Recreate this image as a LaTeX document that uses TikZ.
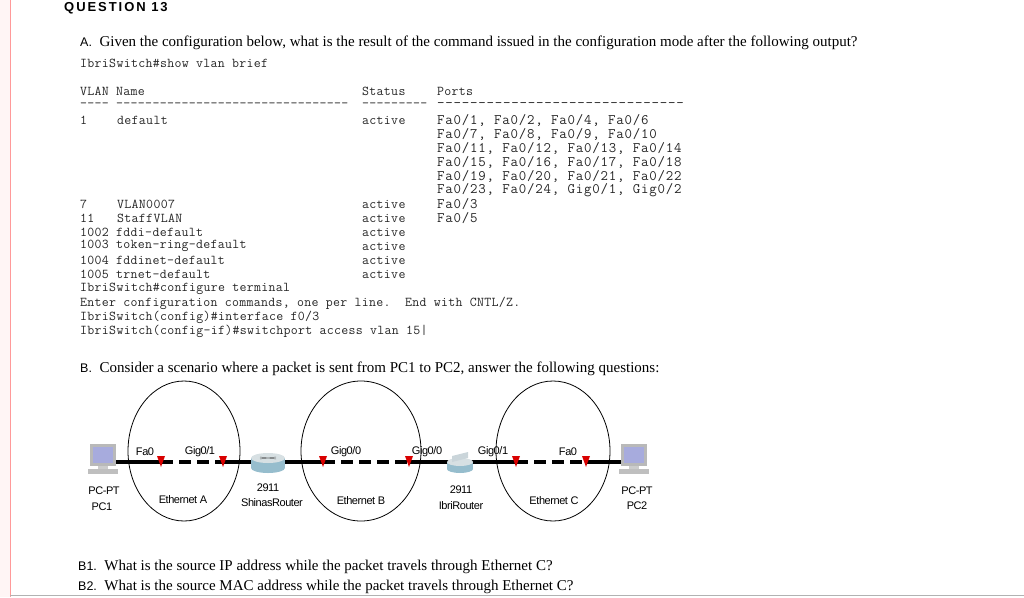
\documentclass[tikz,border=0pt]{standalone}
\usepackage{fontspec}
\setmainfont{Liberation Serif}
\setsansfont{Liberation Sans}
\newfontfamily\cmono[LetterSpace=2.3]{Latin Modern Mono}
\newfontfamily\pmono[LetterSpace=5.4]{Latin Modern Mono}
\begin{document}
\begin{tikzpicture}[x=1pt,y=-1pt,
  mono/.style={anchor=west,inner sep=0,font=\fontsize{13.5}{14}\cmono,text=black!85},
  ports/.style={anchor=west,inner sep=0,font=\fontsize{14.5}{14}\pmono,text=black!85},
  ser/.style={anchor=west,inner sep=0,font=\fontsize{15}{16}\selectfont},
  lab/.style={inner sep=0,font=\fontsize{11}{12}\sffamily\addfontfeature{LetterSpace=-4}},
  eth/.style={draw,thick,line width=0.8pt},
  redmark/.style={fill=red!85!black},
  link/.style={line width=3.2pt},
  dlink/.style={line width=3.2pt,dash pattern=on 12pt off 6pt}]
\useasboundingbox (0,0) rectangle (1024,597);
\fill[red!4] (0,0) rectangle (10,597);
\draw[red!40,line width=1pt] (10,0) -- (10,597);
\draw[black!30,line width=1pt] (10,595) -- (1024,595);
\node[anchor=west,inner sep=0,font=\bfseries\sffamily\fontsize{13}{14}\selectfont\addfontfeature{LetterSpace=15}] (q) at (64,8) {QUESTION 13};
\node[ser] (a) at (80,43) {{\sffamily\fontsize{12.5}{14}\selectfont A.}\ \ Given the configuration below, what is the result of the command issued in the configuration mode after the following output?};
\node[mono] (l0) at (80,63) {IbriSwitch\#show vlan brief};
\node[mono] (h1) at (80,91) {VLAN Name};
\node[mono] (h2) at (362,91) {Status};
\node[mono] (h3) at (437,91) {Ports};
\node[mono] (d1) at (80,105) {---- --------------------------------};
\node[mono] (d2) at (362,105) {---------};
\node[ports] (d3) at (437,105) {------------------------------};
\node[mono] (r1a) at (80,120) {1};
\node[mono] (r1b) at (117,120) {default};
\node[mono] (r1c) at (362,120) {active};
\node[ports] (p1) at (437,120) {Fa0/1, Fa0/2, Fa0/4, Fa0/6};
\node[ports] (p2) at (437,134) {Fa0/7, Fa0/8, Fa0/9, Fa0/10};
\node[ports] (p3) at (437,148) {Fa0/11, Fa0/12, Fa0/13, Fa0/14};
\node[ports] (p4) at (437,162) {Fa0/15, Fa0/16, Fa0/17, Fa0/18};
\node[ports] (p5) at (437,176) {Fa0/19, Fa0/20, Fa0/21, Fa0/22};
\node[ports] (p6) at (437,190) {Fa0/23, Fa0/24, Gig0/1, Gig0/2};
\node[mono] (r7a) at (80,204) {7};
\node[mono] (r7b) at (117,204) {VLAN0007};
\node[mono] (r7c) at (362,204) {active};
\node[ports] (r7d) at (437,204) {Fa0/3};
\node[mono] (r11a) at (80,218) {11};
\node[mono] (r11b) at (117,218) {StaffVLAN};
\node[mono] (r11c) at (362,218) {active};
\node[ports] (r11d) at (437,218) {Fa0/5};
\node[mono] (r12) at (80,232) {1002 fddi-default};
\node[mono] (r12c) at (362,232) {active};
\node[mono] (r13) at (80,246) {1003 token-ring-default};
\node[mono] (r13c) at (362,246) {active};
\node[mono] (r14) at (80,260) {1004 fddinet-default};
\node[mono] (r14c) at (362,260) {active};
\node[mono] (r15) at (80,274) {1005 trnet-default};
\node[mono] (r15c) at (362,274) {active};
\node[mono] (c1) at (80,289) {IbriSwitch\#configure terminal};
\node[mono] (c2) at (80,303) {Enter configuration commands, one per line.\ \ End with CNTL/Z.};
\node[mono] (c3) at (80,317) {IbriSwitch(config)\#interface f0/3};
\node[mono] (c4) at (80,331) {IbriSwitch(config-if)\#switchport access vlan 15|};
\node[ser] (b) at (80,369) {{\sffamily\fontsize{12.5}{14}\selectfont B.}\ \ Consider a scenario where a packet is sent from PC1 to PC2, answer the following questions:};
\node[ser] (b1) at (78,567) {{\sffamily\fontsize{12.5}{14}\selectfont B1.}\ \ What is the source IP address while the packet travels through Ethernet C?};
\node[ser] (b2) at (78,587) {{\sffamily\fontsize{12.5}{14}\selectfont B2.}\ \ What is the source MAC address while the packet travels through Ethernet C?};
% ellipses
\draw[eth] (184,451) ellipse [x radius=56,y radius=70];
\draw[eth] (361,451) ellipse [x radius=60,y radius=70];
\draw[eth] (553,451) ellipse [x radius=57,y radius=70];
% nodes
\coordinate (pc1) at (103,462);
\coordinate (m1) at (161,462);
\coordinate (m2) at (223,462);
\coordinate (r1) at (268,462);
\coordinate (m3) at (323,462);
\coordinate (m4) at (409,462);
\coordinate (r2) at (460,462);
\coordinate (m5) at (516,462);
\coordinate (m6) at (586,462);
\coordinate (pc2) at (634,462);
\draw[link] (pc1) -- (m1);
\draw[dlink] (m1) -- (m2);
\draw[link] (m2) -- (r1) -- (m3);
\draw[dlink] (m3) -- (m4);
\draw[link] (m4) -- (r2) -- (m5);
\draw[dlink] (m5) -- (m6);
\draw[link] (m6) -- (pc2);
\foreach \m in {m1,m2,m3,m4,m5,m6}
  \fill[redmark] ([shift={(-4,-6)}]\m) -- ([shift={(4,-6)}]\m) -- ([shift={(0,5)}]\m) -- cycle;
% routers
\begin{scope}[shift={(r1)}]
\fill[cyan!40!gray!70] (-17,-4) rectangle (17,6);
\fill[cyan!40!gray!70] (0,6) ellipse [x radius=17,y radius=5];
\fill[cyan!20!gray!30] (0,-4) ellipse [x radius=17,y radius=5];
\draw[gray!60!black,thin] (-8,-5) -- (8,-3) (-8,-3) -- (8,-5);
\end{scope}
\begin{scope}[shift={(r2)}]
\fill[cyan!40!gray!70] (-13,0) rectangle (13,7);
\fill[cyan!40!gray!70] (0,7) ellipse [x radius=13,y radius=4];
\fill[cyan!20!gray!30] (0,0) ellipse [x radius=13,y radius=4];
\fill[cyan!20!gray!40] (-8,-6) -- (8,-10) -- (8,-4) -- (-8,0) -- cycle;
\end{scope}
% PCs
\foreach \p in {pc1,pc2}{
\begin{scope}[shift={(\p)}]
\fill[gray!55] (-13,-18) rectangle (13,4);
\fill[cyan!25!blue!35] (-10,-15) rectangle (10,1);
\fill[gray!50] (-15,7) rectangle (15,12);
\fill[gray!40] (-5,4) rectangle (5,7);
\end{scope}}
% labels
\node[lab] (t1) at (145,452) {Fa0};
\node[lab] (t2) at (200,452) {Gig0/1};
\node[lab] (t3) at (346,452) {Gig0/0};
\node[lab] (t4) at (427,452) {Gig0/0};
\node[lab] (t5) at (493,452) {Gig0/1};
\node[lab] (t6) at (568,452) {Fa0};
\node[lab] (u1) at (104,491) {PC-PT};
\node[lab] (u2) at (102,507) {PC1};
\node[lab] (u3) at (183,500) {Ethernet A};
\node[lab] (u4) at (268,488) {2911};
\node[lab] (u5) at (272,503) {ShinasRouter};
\node[lab] (u6) at (361,501) {Ethernet B};
\node[lab] (u7) at (461,490) {2911};
\node[lab] (u8) at (461,506) {IbriRouter};
\node[lab] (u9) at (554,501) {Ethernet C};
\node[lab] (u10) at (637,491) {PC-PT};
\node[lab] (u11) at (637,506) {PC2};
\end{tikzpicture}
\end{document}
